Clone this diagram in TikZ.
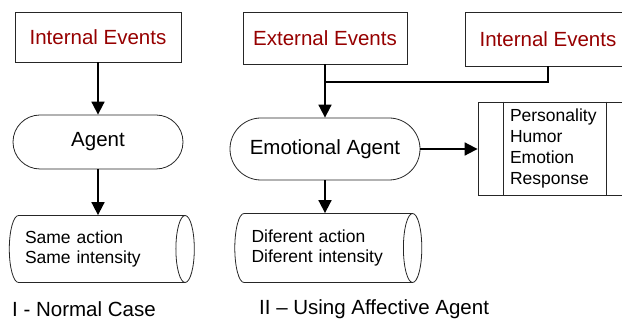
\documentclass[tikz,border=0pt]{standalone}
\usepackage{fontspec}
\setmainfont{Liberation Sans}
\usetikzlibrary{arrows.meta,shapes.misc,shapes.geometric,calc}
\definecolor{evred}{RGB}{150,0,0}

\begin{document}
\begin{tikzpicture}[x=1pt,y=-1pt]
        \tikzstyle{every node}=[font=\fontsize{20.5}{24}\selectfont]
        \tikzstyle{event}=[draw=black!85,line width=0.8pt,rectangle,text=evred,minimum width=166pt,minimum height=50pt,inner sep=0pt]
        \tikzstyle{agent}=[draw=black!85,line width=0.8pt,rounded rectangle,minimum width=170pt,minimum height=54pt,inner sep=0pt]
        % cylinder: minimum height is the length, minimum width the diameter
        \tikzstyle{result}=[draw=black!85,line width=0.8pt,cylinder,shape aspect=0.5,minimum height=185pt,minimum width=67pt,text width=144pt,align=left,font=\fontsize{17.5}{20.5}\selectfont,inner sep=0pt]
        \tikzstyle{trait}=[draw=black!85,line width=0.8pt,rectangle,text width=90pt,inner xsep=32pt,minimum height=93pt,align=left,font=\fontsize{17.5}{21}\selectfont]
        \tikzstyle{flow}=[line width=1.8pt,-{Triangle[length=13pt,width=13pt]}]
        \useasboundingbox (0,0) rectangle (622,320);
        % I - normal case
        \node[event] (ie1) at (98,37) {Internal Events};
        \node[agent] (ag1) at (98,142) {Agent};
        \node[result] (out1) at (97,249) {Same action\\Same intensity};
        \draw[flow] (ie1) -- (ag1);
        \draw[flow] (ag1.south) -- (ag1.south |- out1.north);
        % II - affective agent
        \node[event,minimum width=164pt,minimum height=52pt] (ee) at (325,38) {External Events};
        \node[event,minimum height=54pt] (ie2) at (548,39) {Internal Events};
        \node[agent,minimum width=190pt,minimum height=62pt] (ea) at (325,149) {Emotional Agent};
        \node[trait] (pers) at (555,148.5) {Personality\\Humor\\Emotion\\Response};
        \node[result,minimum height=187pt,minimum width=69pt] (out2) at (323.5,248) {Diferent action\\Diferent intensity};
        \coordinate (j) at ($(ee.south)+(0,18)$);
        \draw[line width=1.8pt] (ie2.south) |- (j);
        \draw[flow] (ee.south) -- (ea.north);
        \draw[flow] (ea.east) -- (ea.east -| pers.west);
        \draw[flow] (ea.south) -- (ea.south |- out2.north);
        \draw[black!85,line width=0.8pt] ([xshift=26pt]pers.north west) -- ([xshift=26pt]pers.south west);
        \draw[black!85,line width=0.8pt] ([xshift=-26pt]pers.north east) -- ([xshift=-26pt]pers.south east);
        % captions
        \node[anchor=west,inner sep=0pt] (cap1) at (12,309) {I - Normal Case};
        \node[anchor=west,inner sep=0pt] (cap2) at (259,309) {II – Using Affective Agent};
\end{tikzpicture}
\end{document}
